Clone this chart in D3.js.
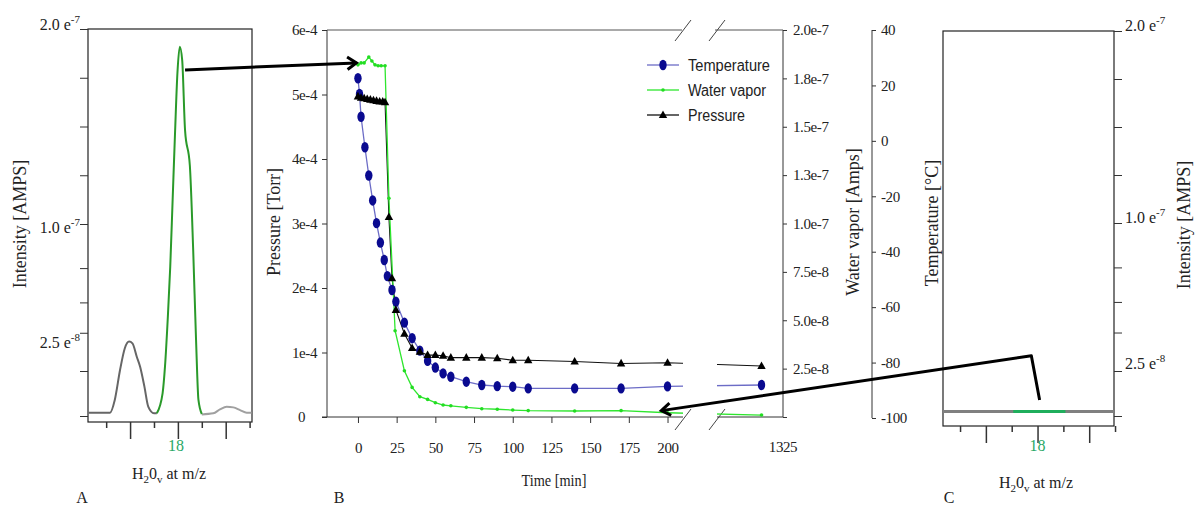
<!DOCTYPE html>
<html lang="en">
<head>
<meta charset="utf-8">
<title>Water vapor, temperature and pressure during freezing</title>
<style>
  body, html { margin: 0; background: #fff; overflow: hidden; }
  svg { display: block; }
  text { font-family: "Liberation Serif", "Times New Roman", serif; fill: #222; }
  .legend text { font-family: "Liberation Sans", Arial, sans-serif; }
  .axis path, .axis line { stroke: #333; }
</style>
<script src="https://cdn.jsdelivr.net/npm/d3@7"></script>
</head>
<body>
<svg width="1195" height="508"></svg>
<script>
// ---------- data ----------
// panel A: spectrum around m/z 18 at the start
const specLeftMz  = [16.13, 16.58, 16.68, 16.79, 16.89, 16.98, 17.05, 17.14, 17.21, 17.30, 17.38, 17.50, 17.56];
const specLeftI   = [1.8e-9, 1.8e-9, 8.9e-9, 2.55e-8, 3.66e-8, 4.0e-8, 3.91e-8, 3.23e-8, 2.72e-8, 1.63e-8, 5.2e-9, 1.5e-9, 1.5e-9];
const specPeakMz  = [17.56, 17.68, 17.73, 17.79, 17.84, 17.89, 17.94, 17.99, 18.04, 18.09, 18.15, 18.25, 18.32, 18.38, 18.43, 18.50];
const specPeakI   = [1.5e-9, 1.26e-8, 2.72e-8, 5.27e-8, 7.82e-8, 1.123e-7, 1.465e-7, 1.773e-7, 1.909e-7, 1.84e-7, 1.48e-7, 1.30e-7, 8.67e-8, 4.08e-8, 8.9e-9, 1.1e-9];
const specRightMz = [18.50, 18.74, 18.88, 19.02, 19.16, 19.30, 19.44, 19.54];
const specRightI  = [9e-10, 1.5e-9, 3.7e-9, 5.2e-9, 4.8e-9, 3.3e-9, 1.8e-9, 1.8e-9];

// panel C: spectrum at the end (flat)
const endMz = [16.17, 17.53, 18.54, 19.48];
const endI  = [2.5e-9, 2.5e-9, 2.5e-9, 2.5e-9];

const intensityTicks = [0, 2.5e-8, 4.45e-8, 6e-8, 7.75e-8, 1e-7, 1.25e-7, 1.5e-7, 1.75e-7, 2e-7];
const intensityLabels = [[2e-7, "2.0 e", "-7"], [1e-7, "1.0 e", "-7"], [2.5e-8, "2.5 e", "-8"]];
const mzTicks = [16.5, 17, 17.5, 18, 18.5, 19, 19.5];

// panel B: time series
const tempTime = [0, 1, 2, 4.5, 7, 9.5, 12, 14.5, 17, 19, 22, 24.5, 30, 35, 40, 45, 50, 55, 60, 70, 80, 90, 100, 110, 140, 170, 200, 1311];
const tempC    = [22.6, 16.9, 8.7, -2.3, -12.5, -21.5, -29.7, -36.7, -43.0, -48.8, -53.8, -58.0, -65.6, -71.2, -75.7, -79.4, -81.8, -83.9, -85.1, -86.9, -88.1, -88.5, -88.7, -89.3, -89.3, -89.3, -88.6, -88.1];

const pressTime = [0, 2, 4, 6, 8, 10, 12, 14, 16, 17.5, 20, 22, 24.5, 30, 35, 40, 45, 50, 55, 60, 70, 80, 90, 100, 110, 140, 170, 200, 1311];
const pressTorr = [4.97e-4, 4.95e-4, 4.94e-4, 4.93e-4, 4.92e-4, 4.91e-4, 4.90e-4, 4.89e-4, 4.89e-4, 4.88e-4, 3.10e-4, 2.15e-4, 1.66e-4, 1.29e-4, 1.07e-4, 1.01e-4, 0.96e-4, 0.96e-4, 0.95e-4, 0.92e-4, 0.92e-4, 0.92e-4, 0.91e-4, 0.88e-4, 0.88e-4, 0.86e-4, 0.83e-4, 0.84e-4, 0.79e-4];

const waterTime = [0, 2, 4, 7, 9, 11, 13, 15, 17.5, 20, 24, 30, 35, 40, 45, 50, 55, 60, 70, 80, 90, 100, 110, 140, 170, 200, 1311];
const waterAmps = [1.82e-7, 1.83e-7, 1.83e-7, 1.86e-7, 1.84e-7, 1.82e-7, 1.815e-7, 1.815e-7, 1.815e-7, 1.13e-7, 4.46e-8, 2.39e-8, 1.53e-8, 1.05e-8, 9.1e-9, 7.4e-9, 6.2e-9, 5.8e-9, 5.0e-9, 4.3e-9, 4.0e-9, 3.6e-9, 3.3e-9, 3.1e-9, 3.3e-9, 2.2e-9, 1.0e-9];

const timeTicks = [0, 25, 50, 75, 100, 125, 150, 175, 200];
const pressTicks = [0, 1e-4, 2e-4, 3e-4, 4e-4, 5e-4, 6e-4];
const pressLabels = ["0", "1e-4", "2e-4", "3e-4", "4e-4", "5e-4", "6e-4"];
const waterTicks = [0, 2.5e-8, 5e-8, 7.5e-8, 1e-7, 1.25e-7, 1.5e-7, 1.75e-7, 2e-7];
const waterLabels = ["", "2.5e-8", "5.0e-8", "7.5e-8", "1.0e-7", "1.3e-7", "1.5e-7", "1.8e-7", "2.0e-7"];
const tempTicks = [-100, -80, -60, -40, -20, 0, 20, 40];
const seriesNames = ["Temperature", "Water vapor", "Pressure"];

// arrows: start in a spectrum panel, end on the water vapor curve
const arrowStartA = [18.15, 1.79e-7];
const arrowEndB   = [-1, 1.83e-7];
const arrowStartC = [18.04, 8.9e-9];
const arrowKneeC  = [17.88, 3.27e-8];
const arrowEndB2  = [196, 3.3e-9];

// ---------- layout & scales ----------
const svg = d3.select("svg");
const A = {left: 88, right: 252, top: 29, zero: 416, bottom: 422};
const B = {left: 327, brk1: 683, brk2: 717, right: 783, top: 30, bottom: 417, tempAxis: 872};
const C = {left: 943, right: 1114, top: 31, zero: 416, bottom: 426};

const xA = d3.scaleLinear().domain([16.12, 19.55]).range([A.left, A.right]);
const yA = d3.scaleLinear().domain([0, 2.5e-8, 1e-7, 2e-7]).range([A.zero, 371, 224, A.top]);
const xC = d3.scaleLinear().domain([16.17, 19.48]).range([C.left, C.right]);
const yC = d3.scaleLinear().domain([0, 2.5e-8, 1e-7, 2e-7]).range([C.zero, 371, 223, C.top]);

const xT = d3.scaleLinear().domain([-20, 210, 1282, 1325]).range([B.left, B.brk1, B.brk2, B.right]);
const yP = d3.scaleLinear().domain([0, 6e-4]).range([B.bottom, B.top]);
const yW = d3.scaleLinear().domain([0, 2e-7]).range([B.bottom, B.top]);
const yTemp = d3.scaleLinear().domain([-100, 40]).range([418, B.top]);

const green = "#2a9a2a", teal = "#2aa866";

// ---------- helpers ----------
function spectrumPanel(x, y, box, isRight) {
  const g = svg.append("g");
  g.append("rect")
    .attr("x", box.left).attr("y", box.top)
    .attr("width", box.right - box.left).attr("height", box.bottom - box.top)
    .attr("fill", "none").attr("stroke", "#222").attr("stroke-width", 1.2);

  const yAxis = (isRight ? d3.axisRight(y) : d3.axisLeft(y))
    .tickValues(intensityTicks).tickSize(8).tickFormat("");
  g.append("g").attr("class", "axis")
    .attr("transform", `translate(${isRight ? box.right : box.left},0)`)
    .call(yAxis).call(s => s.select(".domain").remove());

  const xAxis = d3.axisBottom(x).tickValues(mzTicks).tickFormat("");
  g.append("g").attr("class", "axis")
    .attr("transform", `translate(0,${box.bottom})`)
    .call(xAxis)
    .call(s => s.select(".domain").remove())
    .call(s => s.selectAll(".tick line")
      .attr("stroke-width", 1.5)
      .attr("y2", d => Number.isInteger(d) ? 17 : 6));
  return g;
}

function intensityText(g, x, y, anchor, offsets) {
  intensityLabels.forEach((d, i) => {
    const t = g.append("text")
      .attr("x", x).attr("y", y(d[0]) + offsets[i])
      .attr("text-anchor", anchor)
      .style("font-size", "16px");
    t.append("tspan").text(d[1]);
    t.append("tspan").attr("dy", -7).style("font-size", "11px").text(d[2]);
  });
}

function h2oLabel(cx, y) {
  const t = svg.append("text").attr("x", cx).attr("y", y)
    .attr("text-anchor", "middle").style("font-size", "16px");
  t.append("tspan").text("H");
  t.append("tspan").attr("dy", 4).style("font-size", "11px").text("2");
  t.append("tspan").attr("dy", -4).text("0");
  t.append("tspan").attr("dy", 4).style("font-size", "11px").text("v");
  t.append("tspan").attr("dy", -4).text(" at m/z");
}

function vLabel(x, y, text, size) {
  svg.append("text")
    .attr("transform", `translate(${x},${y}) rotate(-90)`)
    .attr("text-anchor", "middle")
    .style("font-size", size + "px")
    .text(text);
}

function arrow(points) {
  svg.append("path")
    .attr("d", d3.line()(points))
    .attr("fill", "none").attr("stroke", "#000")
    .attr("stroke-width", 3).attr("stroke-linejoin", "round");
  const [x1, y1] = points[points.length - 2];
  const [x2, y2] = points[points.length - 1];
  const a = Math.atan2(y2 - y1, x2 - x1);
  const len = 11, spread = 0.6;
  svg.append("path")
    .attr("d", d3.line()([
      [x2 + len * Math.cos(a + Math.PI - spread), y2 + len * Math.sin(a + Math.PI - spread)],
      [x2, y2],
      [x2 + len * Math.cos(a + Math.PI + spread), y2 + len * Math.sin(a + Math.PI + spread)]
    ]))
    .attr("fill", "none").attr("stroke", "#000")
    .attr("stroke-width", 3).attr("stroke-linejoin", "miter");
}

// ---------- panel A ----------
const gA = spectrumPanel(xA, yA, A, false);
const lineA = d3.line().x(d => xA(d[0])).y(d => yA(d[1])).curve(d3.curveMonotoneX);
gA.append("path").datum(d3.zip(specLeftMz, specLeftI)).attr("d", lineA)
  .attr("fill", "none").attr("stroke", "#666").attr("stroke-width", 2);
gA.append("path").datum(d3.zip(specRightMz, specRightI)).attr("d", lineA)
  .attr("fill", "none").attr("stroke", "#a0a0a0").attr("stroke-width", 2);
gA.append("path").datum(d3.zip(specPeakMz, specPeakI)).attr("d", lineA)
  .attr("fill", "none").attr("stroke", green).attr("stroke-width", 2);
intensityText(gA, A.left - 8, yA, "end", [1, 9, -23]);
gA.append("text").attr("x", xA(18) - 2).attr("y", 451).attr("text-anchor", "middle")
  .style("font-size", "16px").style("fill", teal).text("18");
h2oLabel(169, 479);
vLabel(26, 224, "Intensity [AMPS]", 18);
svg.append("text").attr("x", 82).attr("y", 503).attr("text-anchor", "middle")
  .style("font-size", "16px").text("A");

// ---------- panel C ----------
const gC = spectrumPanel(xC, yC, C, true);
const lineC = d3.line().x(d => xC(d[0])).y(d => yC(d[1]));
const endPts = d3.zip(endMz, endI);
gC.append("path").datum(endPts).attr("d", lineC)
  .attr("fill", "none").attr("stroke", "#808080").attr("stroke-width", 3);
gC.append("path").datum(endPts.slice(1, 3)).attr("d", lineC)
  .attr("fill", "none").attr("stroke", "#1fae5c").attr("stroke-width", 3);
intensityText(gC, C.right + 11, yC, "start", [0, 0, -2]);
gC.append("text").attr("x", xC(18)).attr("y", 451).attr("text-anchor", "middle")
  .style("font-size", "16px").style("fill", teal).text("18");
h2oLabel(1036, 488);
vLabel(1190, 225, "Intensity [AMPS]", 18);
vLabel(938, 223, "Temperature [°C]", 18);
svg.append("text").attr("x", 949).attr("y", 503).attr("text-anchor", "middle")
  .style("font-size", "16px").text("C");

// ---------- panel B ----------
const gB = svg.append("g");
const tickFont = g => g.selectAll("text").style("font-size", "15px").style("letter-spacing", "-0.4px")
  .style("font-family", "'Liberation Serif', serif").attr("fill", "#222");

// left pressure axis
gB.append("g").attr("class", "axis").attr("transform", `translate(${B.left},0)`)
  .call(d3.axisLeft(yP).tickValues(pressTicks).tickSize(5).tickPadding(5)
    .tickFormat((d, i) => pressLabels[i]))
  .call(s => s.select(".domain").remove())
  .call(tickFont)
  .call(s => s.selectAll(".tick text").filter(d => d === 0).attr("x", -22));
gB.append("line").attr("x1", B.left).attr("x2", B.left).attr("y1", B.top).attr("y2", B.bottom)
  .attr("stroke", "#333");

// water vapor axis
gB.append("g").attr("class", "axis").attr("transform", `translate(${B.right},0)`)
  .call(d3.axisRight(yW).tickValues(waterTicks).tickSize(4).tickPadding(6)
    .tickFormat((d, i) => waterLabels[i]))
  .call(s => s.select(".domain").remove())
  .call(tickFont);
gB.append("line").attr("x1", B.right).attr("x2", B.right).attr("y1", B.top).attr("y2", B.bottom)
  .attr("stroke", "#333");

// temperature axis
gB.append("g").attr("class", "axis").attr("transform", `translate(${B.tempAxis},0)`)
  .call(d3.axisRight(yTemp).tickValues(tempTicks).tickSize(4).tickPadding(5)
    .tickFormat(d => String(d)))
  .call(s => s.select(".domain").attr("d", `M0,${B.top}V418`))
  .call(tickFont);

// time axis, two segments
gB.append("g").attr("class", "axis").attr("transform", `translate(0,${B.bottom})`)
  .call(d3.axisBottom(xT).tickValues(timeTicks).tickSize(6).tickPadding(19))
  .call(s => s.select(".domain").remove())
  .call(tickFont);
gB.append("text").attr("x", xT(1325)).attr("y", 452).attr("text-anchor", "middle")
  .style("font-size", "15px").style("letter-spacing", "-0.4px").text("1325");

[[B.left - 5, B.brk1], [B.brk2, B.right]].forEach(([a, b]) => {
  gB.append("line").attr("x1", a).attr("x2", b).attr("y1", B.bottom).attr("y2", B.bottom).attr("stroke", "#333");
});
[[B.left, B.brk1 - 1], [B.brk2 - 2, B.right]].forEach(([a, b]) => {
  gB.append("line").attr("x1", a).attr("x2", b).attr("y1", B.top).attr("y2", B.top).attr("stroke", "#555");
});
// break marks
[xT(210), xT(1282)].forEach(x => {
  [B.top, B.bottom + 2].forEach(y => {
    gB.append("line").attr("x1", x - 8).attr("y1", y + 11).attr("x2", x + 8).attr("y2", y - 10)
      .attr("stroke", "#444").attr("stroke-width", 1);
  });
});

// clip lines to the two time segments
const clip = svg.append("defs").append("clipPath").attr("id", "segs");
clip.append("rect").attr("x", B.left).attr("y", 0).attr("width", B.brk1 - B.left).attr("height", 508);
clip.append("rect").attr("x", B.brk2).attr("y", 0).attr("width", B.right - B.brk2).attr("height", 508);

const tempPts = d3.zip(tempTime, tempC);
const pressPts = d3.zip(pressTime, pressTorr);
const waterPts = d3.zip(waterTime, waterAmps);

const lines = gB.append("g").attr("clip-path", "url(#segs)");
lines.append("path").datum(tempPts)
  .attr("d", d3.line().x(d => xT(d[0])).y(d => yTemp(d[1])))
  .attr("fill", "none").attr("stroke", "#6c6cc6").attr("stroke-width", 1.3);
lines.append("path").datum(pressPts)
  .attr("d", d3.line().x(d => xT(d[0])).y(d => yP(d[1])))
  .attr("fill", "none").attr("stroke", "#111").attr("stroke-width", 1.1);
lines.append("path").datum(waterPts)
  .attr("d", d3.line().x(d => xT(d[0])).y(d => yW(d[1])))
  .attr("fill", "none").attr("stroke", "#2ee62e").attr("stroke-width", 1.3);

const tri = "M0,-4.6L4.2,3L-4.2,3Z";
gB.append("g").selectAll("ellipse").data(tempPts).join("ellipse")
  .attr("cx", d => xT(d[0])).attr("cy", d => yTemp(d[1]))
  .attr("rx", 3.7).attr("ry", 5.2).attr("fill", "#0a0a90");
gB.append("g").selectAll("path").data(pressPts).join("path")
  .attr("transform", d => `translate(${xT(d[0])},${yP(d[1])})`)
  .attr("d", tri).attr("fill", "#000");
gB.append("g").selectAll("circle").data(waterPts).join("circle")
  .attr("cx", d => xT(d[0])).attr("cy", d => yW(d[1]))
  .attr("r", 1.8).attr("fill", "#22dd22");

// legend
const legend = svg.append("g").attr("class", "legend");
const legendStyle = [
  {line: "#6c6cc6", len: 82},
  {line: "#2ee62e", len: 78},
  {line: "#111", len: 57}
];
seriesNames.forEach((name, i) => {
  const y = 65 + i * 25;
  const row = legend.append("g").attr("transform", `translate(647,${y})`);
  row.append("line").attr("x1", 0).attr("x2", 32).attr("stroke", legendStyle[i].line).attr("stroke-width", 1.3);
  if (i === 0) row.append("ellipse").attr("cx", 16).attr("rx", 3.7).attr("ry", 5.2).attr("fill", "#0a0a90");
  if (i === 1) row.append("circle").attr("cx", 16).attr("r", 1.8).attr("fill", "#22dd22");
  if (i === 2) row.append("path").attr("transform", "translate(16,0)").attr("d", tri).attr("fill", "#000");
  row.append("text").attr("x", 41).attr("y", 5.5)
    .attr("textLength", legendStyle[i].len).attr("lengthAdjust", "spacingAndGlyphs")
    .style("font-size", "16px").text(name);
});

// titles
vLabel(280, 222, "Pressure [Torr]", 18);
vLabel(859, 222, "Water vapor [Amps]", 18);
svg.append("text").attr("x", 554).attr("y", 486).attr("text-anchor", "middle")
  .attr("textLength", 65).attr("lengthAdjust", "spacingAndGlyphs")
  .style("font-size", "17px").text("Time [min]");
svg.append("text").attr("x", 339).attr("y", 503).attr("text-anchor", "middle")
  .style("font-size", "16px").text("B");

// ---------- arrows ----------
arrow([[xA(arrowStartA[0]), yA(arrowStartA[1])], [xT(arrowEndB[0]), yW(arrowEndB[1])]]);
arrow([
  [xC(arrowStartC[0]), yC(arrowStartC[1])],
  [xC(arrowKneeC[0]), yC(arrowKneeC[1])],
  [xT(arrowEndB2[0]), yW(arrowEndB2[1])]
]);
</script>
</body>
</html>
